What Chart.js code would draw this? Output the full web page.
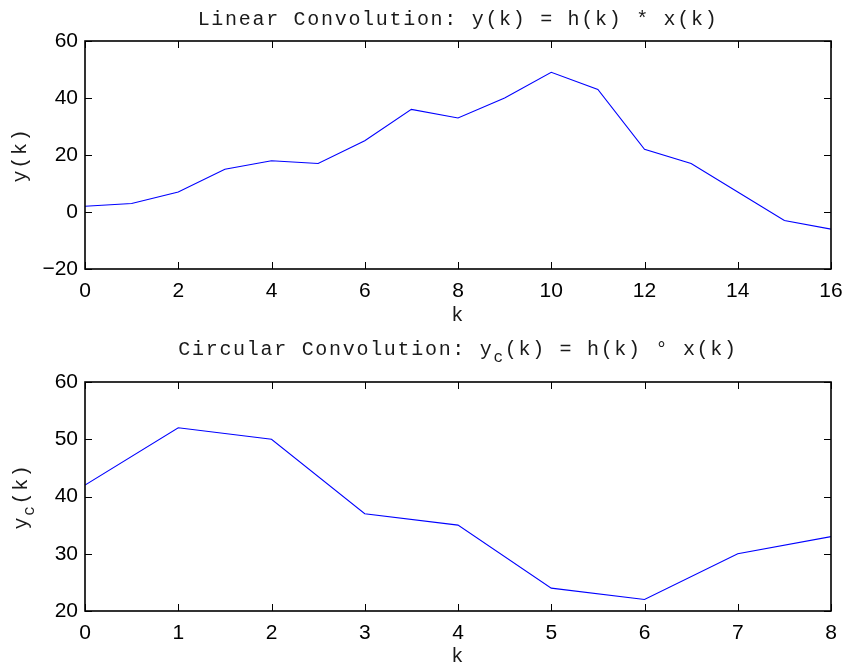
<!DOCTYPE html>
<html>
<head>
<meta charset="utf-8">
<title>Convolution</title>
<script src="https://cdn.jsdelivr.net/npm/chart.js@4.4.1/dist/chart.umd.min.js"></script>
<style>
  html, body { margin: 0; padding: 0; background: #fff; }
  #wrap { position: relative; width: 844px; height: 665px; }
  canvas { position: absolute; left: 0; }
</style>
</head>
<body>
<div id="wrap">
  <canvas id="linearChart" width="844" height="332" style="top:0"></canvas>
  <canvas id="circularChart" width="844" height="333" style="top:332px"></canvas>
</div>
<script>
// linear convolution y(k), k = 0..16
const linearK = [0, 1, 2, 3, 4, 5, 6, 7, 8, 9, 10, 11, 12, 13, 14, 15, 16];
const linearY = [2, 3, 7, 15, 18, 17, 25, 36, 33, 40, 49, 43, 22, 17, 7, -3, -6];
const linearXTicks = [0, 2, 4, 6, 8, 10, 12, 14, 16];
const linearYTicks = [-20, 0, 20, 40, 60];

// circular convolution yc(k), k = 0..8
const circularK = [0, 1, 2, 3, 4, 5, 6, 7, 8];
const circularY = [42, 52, 50, 37, 35, 24, 22, 30, 33];
const circularXTicks = [0, 1, 2, 3, 4, 5, 6, 7, 8];
const circularYTicks = [20, 30, 40, 50, 60];

const TEXT_FONT = "20px 'Liberation Mono', 'DejaVu Sans Mono', monospace";
const SUB_FONT = "16px 'Liberation Mono', 'DejaVu Sans Mono', monospace";
const SPACING = '1.7px';
const SUB_DROP = 7;
const TICK_FONT = { family: "'Liberation Sans', Arial, sans-serif", size: 21 };

// draws a run of text pieces (some subscripted) centred on cx
function drawRun(ctx, parts, cx, baseY) {
  ctx.textAlign = 'left';
  ctx.textBaseline = 'alphabetic';
  ctx.letterSpacing = SPACING;
  const widths = parts.map(p => {
    ctx.font = p.sub ? SUB_FONT : TEXT_FONT;
    return ctx.measureText(p.text).width;
  });
  let x = cx - widths.reduce((a, b) => a + b, 0) / 2;
  parts.forEach((p, i) => {
    ctx.font = p.sub ? SUB_FONT : TEXT_FONT;
    ctx.fillText(p.text, x, baseY + (p.sub ? SUB_DROP : 0));
    x += widths[i];
  });
}

// box around the plot area with inward tick marks on all four sides
const boxPlugin = {
  id: 'boxAxes',
  afterDatasetsDraw(chart) {
    const { ctx, chartArea: a, scales } = chart;
    const len = 7;
    ctx.save();
    ctx.strokeStyle = '#000';
    ctx.lineWidth = 1;
    ctx.beginPath();
    scales.x.ticks.forEach(t => {
      const px = Math.round(scales.x.getPixelForValue(t.value)) + 0.5;
      ctx.moveTo(px, a.bottom); ctx.lineTo(px, a.bottom - len);
      ctx.moveTo(px, a.top); ctx.lineTo(px, a.top + len);
    });
    scales.y.ticks.forEach(t => {
      const py = Math.round(scales.y.getPixelForValue(t.value)) + 0.5;
      ctx.moveTo(a.left, py); ctx.lineTo(a.left + len, py);
      ctx.moveTo(a.right, py); ctx.lineTo(a.right - len, py);
    });
    ctx.stroke();
    ctx.lineWidth = 1.6;
    ctx.strokeRect(a.left, a.top, a.right - a.left, a.bottom - a.top);
    ctx.restore();
  }
};

// title, x label and rotated y label
const textPlugin = {
  id: 'axisText',
  afterDraw(chart, args, opts) {
    const { ctx, chartArea: a } = chart;
    const cx = (a.left + a.right) / 2;
    ctx.save();
    ctx.fillStyle = '#1a1a1a';
    drawRun(ctx, opts.title, cx, opts.titleY);
    drawRun(ctx, [{ text: 'k' }], cx, a.bottom + opts.xlabelGap);
    ctx.translate(opts.ylabelX, (a.top + a.bottom) / 2);
    ctx.rotate(-Math.PI / 2);
    drawRun(ctx, opts.ylabel, 0, 0);
    ctx.restore();
  }
};

function minusSign(v) {
  return v < 0 ? '\u2212' + Math.abs(v) : String(v);
}

function makeChart(id, ks, ys, xTicks, yTicks, layout, text) {
  const ctx = document.getElementById(id).getContext('2d');
  return new Chart(ctx, {
    type: 'line',
    data: {
      datasets: [{
        data: ks.map((k, i) => ({ x: k, y: ys[i] })),
        borderColor: '#0000ff',
        borderWidth: 1.1,
        pointRadius: 0,
        tension: 0,
        fill: false
      }]
    },
    options: {
      responsive: false,
      animation: false,
      events: [],
      layout: { padding: { top: layout.top, right: 13, left: 0, bottom: 0 } },
      scales: {
        x: {
          type: 'linear',
          min: xTicks[0],
          max: xTicks[xTicks.length - 1],
          afterBuildTicks: s => { s.ticks = xTicks.map(v => ({ value: v })); },
          afterFit: s => {
            s.height = layout.xHeight;
            s.paddingLeft = 0;
            s.paddingRight = 0;
          },
          grid: { display: false, drawTicks: false },
          border: { display: false },
          ticks: { font: TICK_FONT, color: '#000', padding: 10, maxRotation: 0, autoSkip: false }
        },
        y: {
          min: yTicks[0],
          max: yTicks[yTicks.length - 1],
          afterBuildTicks: s => { s.ticks = yTicks.map(v => ({ value: v })); },
          afterFit: s => {
            s.width = 85;
            s.paddingTop = 0;
            s.paddingBottom = 0;
          },
          grid: { display: false, drawTicks: false },
          border: { display: false },
          ticks: { font: TICK_FONT, color: '#000', padding: 7, callback: minusSign }
        }
      },
      plugins: {
        legend: { display: false },
        tooltip: { enabled: false },
        axisText: text
      }
    },
    plugins: [boxPlugin, textPlugin]
  });
}

makeChart('linearChart', linearK, linearY, linearXTicks, linearYTicks,
  { top: 41, xHeight: 63 },
  {
    title: [{ text: 'Linear Convolution: y(k) = h(k) * x(k)' }],
    titleY: 25,
    ylabel: [{ text: 'y(k)' }],
    ylabelX: 26,
    xlabelGap: 52
  });

makeChart('circularChart', circularK, circularY, circularXTicks, circularYTicks,
  { top: 50, xHeight: 54 },
  {
    title: [
      { text: 'Circular Convolution: y' },
      { text: 'c', sub: true },
      { text: '(k) = h(k) \u00b0 x(k)' }
    ],
    titleY: 23,
    ylabel: [{ text: 'y' }, { text: 'c', sub: true }, { text: '(k)' }],
    ylabelX: 27,
    xlabelGap: 51
  });
</script>
</body>
</html>
